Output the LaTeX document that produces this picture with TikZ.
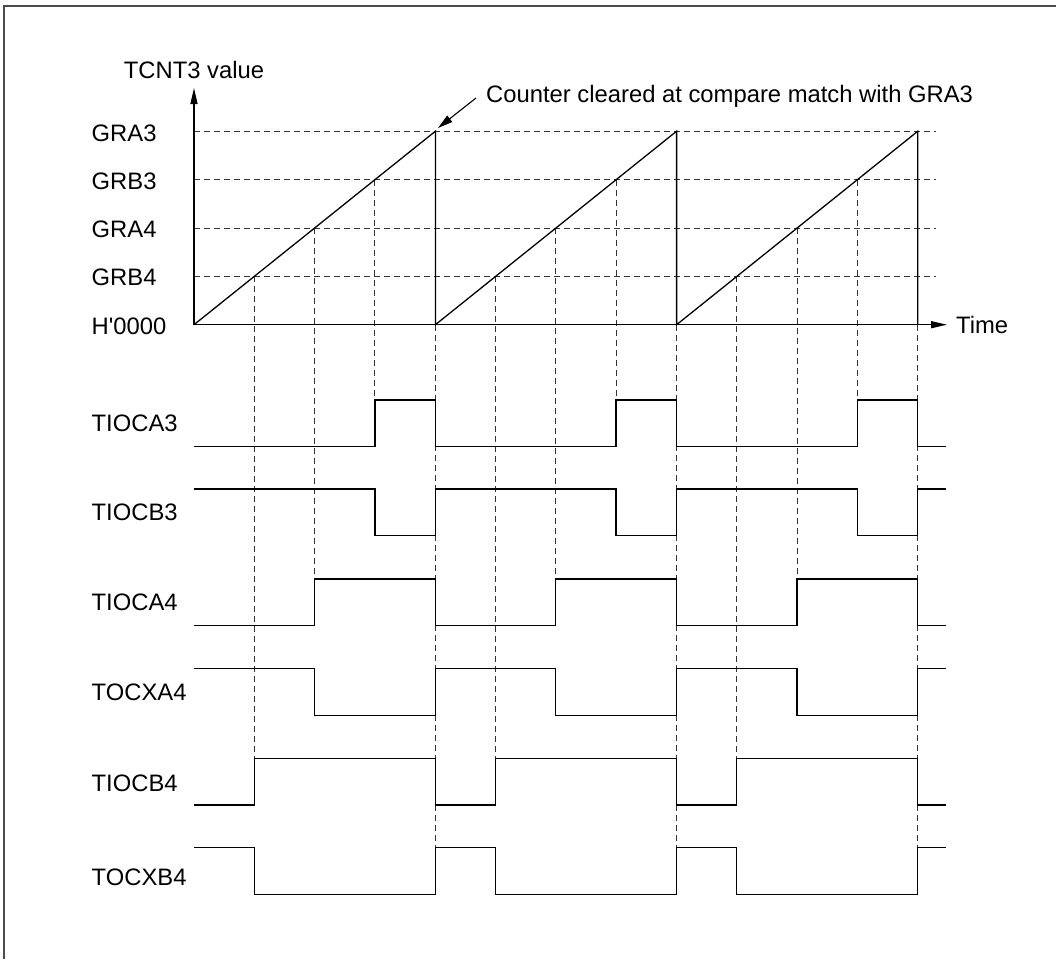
\documentclass[tikz,border=0pt]{standalone}
\usepackage{fontspec}
\setmainfont{Liberation Sans}
\newfontfamily\plainsans[Ligatures=TeXOff]{Liberation Sans}
\usetikzlibrary{arrows.meta}
\tikzset{
  sig/.style={line width=1.3pt, black},
  guide/.style={line width=0.9pt, black!80, dash pattern=on 6pt off 4pt},
  axis/.style={line width=1.3pt, black, -{Triangle[length=16pt,width=7pt]}},
  lbl/.style={anchor=base west, inner sep=0pt, font=\fontsize{23.8}{28}\selectfont},
  frame/.style={line width=1.5pt, black!70}
}
\newcommand\mywave[3]{%
  \draw[sig] (194,#2) \foreach \k in {0,1,2} { -- ({194+\k*241.2+#1*60.3},#2) -- ({194+\k*241.2+#1*60.3},#3) -- ({194+(\k+1)*241.2},#3) -- ({194+(\k+1)*241.2},#2) } -- (946,#2);}
\begin{document}
\begin{tikzpicture}[x=1pt,y=-1pt]
\useasboundingbox (0,0) rectangle (1056,959);
\fill[white] (0,0) rectangle (1056,959);
% frame (top and left visible)
\draw[frame] (1056,6) -- (4,6) -- (4,959);

% horizontal guides
\foreach \yy in {131.2,179.6,228,276.3} \draw[guide] (194,\yy) -- (936,\yy);

% vertical guides
\foreach \k in {0,1,2} {
  \draw[guide] ({194+\k*241.2+60.3},276.3) -- ({194+\k*241.2+60.3},758.3);
  \draw[guide] ({194+\k*241.2+120.6},228) -- ({194+\k*241.2+120.6},579);
  \draw[guide] ({194+\k*241.2+180.9},179.6) -- ({194+\k*241.2+180.9},400);
  \draw[guide] ({194+(\k+1)*241.2},324.7) -- ({194+(\k+1)*241.2},847.7);
}

% axes
\coordinate (origin) at (194,324.7);
\coordinate (ytip) at (194,88);
\coordinate (xtip) at (947,324.7);
\draw[axis] (origin) -- (ytip);
\draw[axis] (origin) -- (xtip);

% sawtooth
\draw[sig] (194,324.7) -- (435.4,131.2) -- (435.4,324.7) -- (676.6,131.2) -- (676.6,324.7) -- (917.8,131.2) -- (917.8,324.7);

% axis labels
\node[anchor=base, inner sep=0pt, font=\fontsize{23.8}{28}\selectfont] (ylab) at (194,78) {TCNT3 value};
\node[lbl] (tlab) at (956,333.5) {Time};
\node[lbl] (gra3) at (91.5,141) {GRA3};
\node[lbl] (grb3) at (91.5,189.5) {GRB3};
\node[lbl] (gra4) at (91.5,237.5) {GRA4};
\node[lbl] (grb4) at (91.5,285.8) {GRB4};
\node[lbl] (h0) at (91.5,334.2) {\plainsans H'0000};

% annotation
\node[lbl] (note) at (486,102.5) {Counter cleared at compare match with GRA3};
\coordinate (notefrom) at (476,98);
\coordinate (peak) at (438,128);
\draw[line width=1.1pt, -{Triangle[length=15pt,width=8pt]}] (notefrom) -- (peak);

% waveforms
\mywave{3}{446.7}{400}
\mywave{3}{489}{535.7}
\mywave{2}{625.7}{579}
\mywave{2}{668.3}{715.3}
\mywave{1}{805}{758.3}
\mywave{1}{847.7}{894.7}

% signal labels
\node[lbl] (s1) at (91.5,431.7) {TIOCA3};
\node[lbl] (s2) at (91.5,520.5) {TIOCB3};
\node[lbl] (s3) at (91.5,610.5) {TIOCA4};
\node[lbl] (s4) at (91.5,700.5) {TOCXA4};
\node[lbl] (s5) at (91.5,791) {TIOCB4};
\node[lbl] (s6) at (91.5,885.5) {TOCXB4};
\end{tikzpicture}
\end{document}
